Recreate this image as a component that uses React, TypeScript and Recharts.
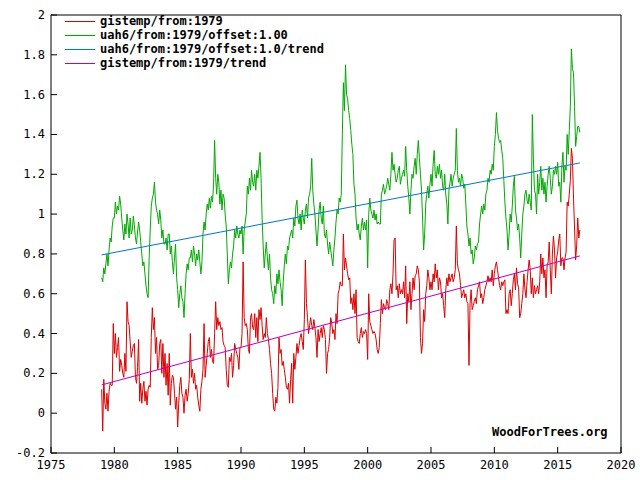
import { LineChart, Line, XAxis, YAxis, ReferenceArea } from 'recharts'

// monthly anomalies, first value is Jan 1979, last is Oct 2016
const START_YEAR = 1979

const GISTEMP = [
  0.12, -0.09, 0.17, 0.05, 0.02, 0.10, 0.01, 0.11, 0.15, 0.14, 0.14, 0.45, // 1979
  0.30, 0.40, 0.28, 0.33, 0.38, 0.21, 0.27, 0.24, 0.20, 0.18, 0.30, 0.21, // 1980
  0.56, 0.46, 0.44, 0.36, 0.28, 0.31, 0.34, 0.35, 0.18, 0.15, 0.23, 0.37, // 1981
  0.06, 0.15, 0.05, 0.12, 0.16, 0.06, 0.11, 0.04, 0.12, 0.14, 0.13, 0.38, // 1982
  0.53, 0.42, 0.48, 0.30, 0.38, 0.22, 0.24, 0.35, 0.37, 0.20, 0.35, 0.18, // 1983
  0.30, 0.14, 0.25, 0.09, 0.30, 0.04, 0.15, 0.19, 0.18, 0.10, 0.02, 0.08, // 1984
  -0.07, 0.05, 0.14, 0.18, 0.10, 0.08, 0.00, 0.09, 0.12, 0.06, 0.10, 0.17, // 1985
  0.40, 0.18, 0.22, 0.15, 0.20, 0.12, 0.14, 0.08, 0.04, 0.01, 0.12, 0.16, // 1986
  0.22, 0.45, 0.18, 0.24, 0.30, 0.36, 0.38, 0.28, 0.32, 0.26, 0.25, 0.40, // 1987
  0.56, 0.42, 0.48, 0.44, 0.46, 0.42, 0.43, 0.36, 0.34, 0.33, 0.22, 0.14, // 1988
  0.13, 0.28, 0.26, 0.30, 0.18, 0.24, 0.35, 0.32, 0.30, 0.28, 0.22, 0.33, // 1989
  0.33, 0.40, 0.76, 0.48, 0.44, 0.45, 0.42, 0.32, 0.30, 0.48, 0.50, 0.43, // 1990
  0.42, 0.50, 0.38, 0.48, 0.36, 0.52, 0.47, 0.53, 0.44, 0.37, 0.40, 0.38, // 1991
  0.48, 0.40, 0.37, 0.32, 0.25, 0.20, 0.10, 0.02, 0.01, 0.08, 0.05, 0.13, // 1992
  0.38, 0.30, 0.32, 0.24, 0.26, 0.22, 0.18, 0.13, 0.12, 0.15, 0.05, 0.17, // 1993
  0.25, 0.05, 0.30, 0.22, 0.28, 0.35, 0.30, 0.34, 0.38, 0.40, 0.36, 0.32, // 1994
  0.47, 0.77, 0.55, 0.48, 0.40, 0.44, 0.48, 0.44, 0.42, 0.47, 0.43, 0.38, // 1995
  0.28, 0.42, 0.36, 0.40, 0.43, 0.38, 0.44, 0.42, 0.37, 0.20, 0.30, 0.32, // 1996
  0.38, 0.48, 0.45, 0.40, 0.42, 0.37, 0.50, 0.45, 0.60, 0.62, 0.66, 0.64, // 1997
  0.64, 0.90, 0.72, 0.78, 0.74, 0.70, 0.67, 0.68, 0.55, 0.58, 0.52, 0.60, // 1998
  0.50, 0.62, 0.38, 0.36, 0.35, 0.40, 0.43, 0.38, 0.41, 0.40, 0.42, 0.40, // 1999
  0.27, 0.60, 0.46, 0.44, 0.42, 0.40, 0.41, 0.40, 0.37, 0.32, 0.30, 0.33, // 2000
  0.45, 0.57, 0.50, 0.55, 0.53, 0.52, 0.57, 0.55, 0.52, 0.62, 0.65, 0.60, // 2001
  0.70, 0.87, 0.88, 0.62, 0.64, 0.58, 0.65, 0.60, 0.62, 0.60, 0.66, 0.58, // 2002
  0.74, 0.45, 0.60, 0.56, 0.66, 0.52, 0.60, 0.68, 0.62, 0.69, 0.70, 0.74, // 2003
  0.72, 0.66, 0.38, 0.30, 0.35, 0.52, 0.46, 0.60, 0.64, 0.72, 0.68, 0.62, // 2004
  0.66, 0.62, 0.70, 0.66, 0.75, 0.68, 0.72, 0.62, 0.68, 0.66, 0.58, 0.60, // 2005
  0.54, 0.48, 0.62, 0.68, 0.64, 0.70, 0.66, 0.68, 0.70, 0.66, 0.68, 0.72, // 2006
  0.94, 0.75, 0.72, 0.70, 0.64, 0.58, 0.60, 0.62, 0.58, 0.60, 0.56, 0.55, // 2007
  0.24, 0.55, 0.62, 0.52, 0.54, 0.56, 0.58, 0.55, 0.62, 0.64, 0.66, 0.58, // 2008
  0.60, 0.55, 0.58, 0.62, 0.64, 0.66, 0.69, 0.66, 0.68, 0.66, 0.72, 0.64, // 2009
  0.70, 0.74, 0.76, 0.72, 0.68, 0.64, 0.62, 0.66, 0.64, 0.66, 0.67, 0.50, // 2010
  0.52, 0.50, 0.60, 0.62, 0.54, 0.60, 0.67, 0.70, 0.62, 0.73, 0.65, 0.63, // 2011
  0.48, 0.50, 0.55, 0.60, 0.70, 0.62, 0.58, 0.66, 0.72, 0.77, 0.72, 0.60, // 2012
  0.68, 0.58, 0.64, 0.60, 0.62, 0.64, 0.60, 0.66, 0.80, 0.70, 0.78, 0.68, // 2013
  0.72, 0.58, 0.74, 0.76, 0.86, 0.72, 0.60, 0.80, 0.89, 0.82, 0.68, 0.78, // 2014
  0.81, 0.87, 0.90, 0.74, 0.78, 0.78, 0.72, 0.78, 0.81, 1.06, 1.04, 1.10, // 2015
  1.17, 1.33, 1.28, 1.08, 0.93, 0.77, 0.84, 0.98, 0.88, 0.92, // 2016
]

const UAH6 = [
  -0.32, -0.34, -0.27, -0.30, -0.25, -0.20, -0.26, -0.18, -0.12, -0.14, -0.06, -0.02, // 1979
  -0.02, 0.06, 0.00, 0.04, 0.02, 0.09, 0.05, -0.02, -0.08, -0.13, -0.05, -0.10, // 1980
  0.00, -0.05, -0.12, -0.02, -0.10, -0.08, -0.01, -0.06, -0.12, -0.15, -0.09, -0.04, // 1981
  -0.08, -0.14, -0.20, -0.26, -0.24, -0.30, -0.36, -0.40, -0.42, -0.22, -0.08, 0.04, // 1982
  0.08, 0.10, 0.16, 0.06, 0.02, 0.00, -0.05, 0.02, -0.03, -0.12, -0.08, -0.15, // 1983
  -0.15, -0.12, -0.18, -0.10, -0.10, -0.20, -0.16, -0.24, -0.30, -0.22, -0.15, -0.32, // 1984
  -0.38, -0.47, -0.40, -0.36, -0.42, -0.44, -0.52, -0.40, -0.30, -0.25, -0.28, -0.22, // 1985
  -0.22, -0.18, -0.24, -0.16, -0.20, -0.26, -0.20, -0.23, -0.18, -0.24, -0.30, -0.24, // 1986
  -0.10, -0.04, -0.08, 0.00, 0.05, 0.02, 0.08, 0.03, 0.09, 0.06, 0.15, 0.37, // 1987
  0.18, 0.10, 0.20, 0.16, 0.05, 0.12, 0.02, 0.10, 0.08, 0.00, -0.06, -0.20, // 1988
  -0.35, -0.28, -0.24, -0.27, -0.20, -0.16, -0.08, -0.12, -0.06, -0.10, -0.12, -0.08, // 1989
  -0.10, -0.06, -0.20, -0.08, -0.04, 0.00, 0.14, 0.10, 0.18, 0.12, 0.22, 0.16, // 1990
  0.14, 0.20, 0.12, 0.22, 0.18, 0.24, 0.31, 0.18, -0.02, -0.16, -0.27, -0.20, // 1991
  -0.14, -0.22, -0.28, -0.20, -0.32, -0.38, -0.40, -0.45, -0.36, -0.40, -0.30, -0.35, // 1992
  -0.28, -0.34, -0.38, -0.46, -0.34, -0.26, -0.20, -0.25, -0.16, -0.18, -0.12, -0.10, // 1993
  -0.08, -0.12, -0.02, -0.06, 0.04, 0.07, -0.02, -0.05, 0.00, -0.08, 0.02, -0.02, // 1994
  -0.05, 0.02, 0.05, -0.02, 0.08, 0.10, 0.14, 0.28, 0.12, 0.05, 0.00, -0.08, // 1995
  -0.16, -0.08, 0.02, 0.06, -0.02, -0.05, 0.04, -0.10, -0.12, -0.08, -0.15, -0.20, // 1996
  -0.14, -0.18, -0.22, -0.26, -0.18, -0.12, -0.04, 0.02, 0.00, 0.08, 0.06, 0.10, // 1997
  0.40, 0.66, 0.52, 0.75, 0.60, 0.58, 0.52, 0.48, 0.42, 0.35, 0.30, 0.15, // 1998
  0.10, -0.02, -0.08, -0.05, -0.10, -0.13, -0.06, -0.02, -0.08, -0.04, -0.08, -0.03, // 1999
  -0.27, 0.00, 0.08, 0.02, 0.00, -0.02, 0.02, -0.03, 0.00, -0.05, -0.04, -0.05, // 2000
  -0.05, 0.10, 0.12, 0.15, 0.10, 0.12, 0.14, 0.18, 0.15, 0.12, 0.20, 0.31, // 2001
  0.22, 0.25, 0.20, 0.16, 0.18, 0.22, 0.24, 0.15, 0.18, 0.20, 0.22, 0.19, // 2002
  0.34, 0.22, 0.14, 0.08, 0.00, 0.12, 0.20, 0.18, 0.24, 0.28, 0.20, 0.30, // 2003
  0.37, 0.28, 0.20, 0.12, -0.02, -0.18, -0.10, 0.05, 0.10, 0.14, 0.08, 0.15, // 2004
  0.20, 0.14, 0.25, 0.32, 0.20, 0.18, 0.24, 0.20, 0.25, 0.18, 0.22, 0.14, // 2005
  0.12, 0.20, 0.10, 0.05, -0.05, 0.12, 0.16, 0.20, 0.14, 0.18, 0.20, 0.22, // 2006
  0.43, 0.22, 0.16, 0.18, 0.14, 0.20, 0.18, 0.13, 0.15, 0.05, -0.06, -0.10, // 2007
  -0.16, -0.12, -0.20, -0.18, -0.25, -0.22, -0.16, -0.18, -0.15, -0.14, -0.05, 0.00, // 2008
  0.04, 0.00, 0.05, 0.02, 0.10, 0.12, 0.18, 0.16, 0.22, 0.20, 0.25, 0.22, // 2009
  0.34, 0.40, 0.51, 0.42, 0.38, 0.36, 0.37, 0.32, 0.28, 0.17, 0.06, -0.02, // 2010
  -0.08, -0.18, -0.10, 0.00, -0.04, 0.04, 0.14, 0.19, 0.02, -0.02, -0.08, -0.05, // 2011
  -0.12, -0.22, -0.10, 0.00, 0.04, 0.10, 0.12, 0.07, 0.05, 0.10, 0.06, 0.02, // 2012
  0.50, 0.28, 0.12, 0.10, 0.00, 0.20, 0.10, 0.16, 0.24, 0.12, 0.18, 0.10, // 2013
  0.16, 0.06, 0.14, 0.20, 0.24, 0.18, 0.10, 0.14, 0.22, 0.20, 0.24, 0.20, // 2014
  0.26, 0.14, 0.16, 0.06, 0.24, 0.31, 0.16, 0.24, 0.22, 0.40, 0.30, 0.42, // 2015
  0.54, 0.83, 0.73, 0.71, 0.54, 0.34, 0.39, 0.44, 0.44, 0.41, // 2016
]

const UAH6_OFFSET = 1.0

// least-squares trend, value at first and last month
const GISTEMP_TREND = [0.142, 0.79]
const UAH6_TREND = [-0.205, 0.257]

const X_TICKS = [1975, 1980, 1985, 1990, 1995, 2000, 2005, 2010, 2015, 2020]
const Y_TICKS = [-0.2, 0, 0.2, 0.4, 0.6, 0.8, 1, 1.2, 1.4, 1.6, 1.8, 2]

const SERIES = [
  { key: 'gistemp', label: 'gistemp/from:1979', color: '#dd0000' },
  { key: 'uah', label: 'uah6/from:1979/offset:1.00', color: '#00aa00' },
  { key: 'uahTrend', label: 'uah6/from:1979/offset:1.0/trend', color: '#0077cc' },
  { key: 'gistempTrend', label: 'gistemp/from:1979/trend', color: '#bb00bb' },
]

const last = GISTEMP.length - 1
const DATA = GISTEMP.map((g, i) => ({
  t: START_YEAR + i / 12,
  gistemp: g,
  uah: UAH6[i] + UAH6_OFFSET,
  gistempTrend: i === 0 ? GISTEMP_TREND[0] : i === last ? GISTEMP_TREND[1] : null,
  uahTrend: i === 0 ? UAH6_TREND[0] + UAH6_OFFSET : i === last ? UAH6_TREND[1] + UAH6_OFFSET : null,
}))

const FONT = '"DejaVu Sans Mono", monospace'

function YTick({ x, y, payload }: any) {
  const edge = x + 6
  return (
    <g>
      <line x1={edge} y1={y} x2={edge + 6} y2={y} stroke="#000" />
      <text x={x} y={y} dy={4} textAnchor="end" fontFamily={FONT} fontSize={12} fill="#000">
        {String(Number(payload.value.toFixed(1)))}
      </text>
    </g>
  )
}

function XTick({ x, y, payload }: any) {
  const edge = y - 6
  return (
    <g>
      <line x1={x} y1={edge} x2={x} y2={edge - 6} stroke="#000" />
      <text x={x} y={y} dy={10} textAnchor="middle" fontFamily={FONT} fontSize={12} fill="#000">
        {payload.value}
      </text>
    </g>
  )
}

export default function App() {
  return (
    <div style={{ position: 'absolute', left: 0, top: 0, width: 640, height: 480, background: '#fff' }}>
      <LineChart width={640} height={480} data={DATA} margin={{ top: 15, right: 19, left: 5, bottom: 5 }}>
        <XAxis
          dataKey="t"
          type="number"
          domain={[1975, 2020]}
          ticks={X_TICKS}
          tick={<XTick />}
          tickLine={false}
          tickSize={0}
          tickMargin={6}
          axisLine={false}
          height={22}
          allowDataOverflow
        />
        <YAxis
          domain={[-0.2, 2]}
          ticks={Y_TICKS}
          tick={<YTick />}
          tickLine={false}
          tickSize={0}
          tickMargin={6}
          axisLine={false}
          width={46}
          allowDataOverflow
        />
        <ReferenceArea x1={1975} x2={2020} y1={-0.2} y2={2} fill="none" stroke="#000" strokeWidth={1} />
        <Line dataKey="gistemp" stroke={SERIES[0].color} strokeWidth={1} dot={false} isAnimationActive={false} />
        <Line dataKey="uah" stroke={SERIES[1].color} strokeWidth={1} dot={false} isAnimationActive={false} />
        <Line dataKey="uahTrend" stroke={SERIES[2].color} strokeWidth={1} dot={false} connectNulls isAnimationActive={false} />
        <Line dataKey="gistempTrend" stroke={SERIES[3].color} strokeWidth={1} dot={false} connectNulls isAnimationActive={false} />
      </LineChart>

      {/* series key, top left inside the frame */}
      {SERIES.map((s, i) => (
        <div key={s.key} style={{ position: 'absolute', left: 65, top: 14 + i * 14, height: 14, width: 280 }}>
          <div style={{ position: 'absolute', left: 0, top: 7, width: 30, height: 1, backgroundColor: s.color }} />
          <div style={{ position: 'absolute', left: 35, top: 0, fontFamily: FONT, fontSize: 12, fontWeight: 'bold', lineHeight: '14px', whiteSpace: 'nowrap', color: '#000' }}>
            {s.label}
          </div>
        </div>
      ))}

      <div style={{ position: 'absolute', left: 492, top: 425, fontFamily: FONT, fontSize: 12, fontWeight: 'bold' }}>
        WoodForTrees.org
      </div>
    </div>
  )
}
